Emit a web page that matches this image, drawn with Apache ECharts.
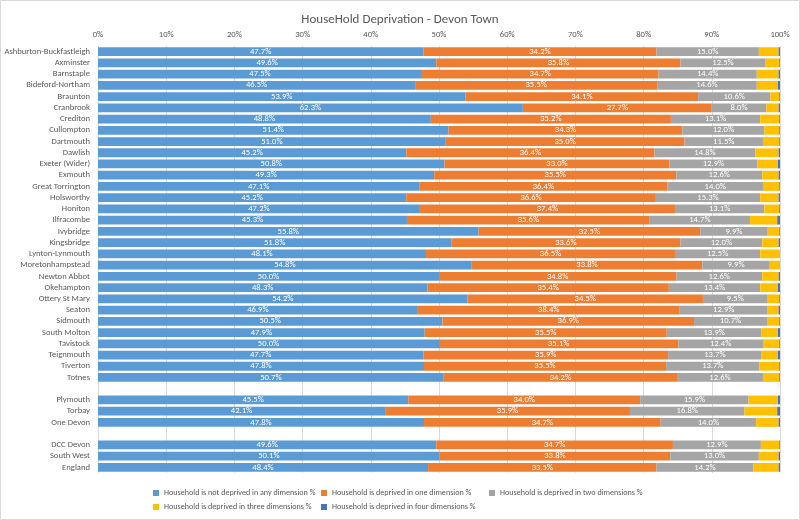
<!DOCTYPE html>
<html>
<head>
<meta charset="utf-8">
<script src="https://cdn.jsdelivr.net/npm/echarts@6/dist/echarts.min.js"></script>
<style>
  html, body { margin: 0; padding: 0; background: #fff; }
  #chart { width: 800px; height: 520px; }
</style>
</head>
<body>
<div id="chart"></div>
<script>
// 数据 (null = 空行分组)
var towns = [
  'Ashburton-Buckfastleigh', 'Axminster', 'Barnstaple', 'Bideford-Northam', 'Braunton',
  'Cranbrook', 'Crediton', 'Cullompton', 'Dartmouth', 'Dawlish', 'Exeter (Wider)',
  'Exmouth', 'Great Torrington', 'Holsworthy', 'Honiton', 'Ilfracombe', 'Ivybridge',
  'Kingsbridge', 'Lynton-Lynmouth', 'Moretonhampstead', 'Newton Abbot', 'Okehampton',
  'Ottery St Mary', 'Seaton', 'Sidmouth', 'South Molton', 'Tavistock', 'Teignmouth',
  'Tiverton', 'Totnes', ' ', 'Plymouth', 'Torbay', 'One Devon', '  ',
  'DCC Devon', 'South West', 'England'
];

var notDeprived = [
  47.7, 49.6, 47.5, 46.5, 53.9, 62.3, 48.8, 51.4, 51.0, 45.2, 50.8, 49.3, 47.1, 45.2, 47.2,
  45.3, 55.8, 51.8, 48.1, 54.8, 50.0, 48.3, 54.2, 46.9, 50.5, 47.9, 50.0, 47.7, 47.8, 50.7,
  null, 45.5, 42.1, 47.8, null, 49.6, 50.1, 48.4
];
var oneDim = [
  34.2, 35.8, 34.7, 35.5, 34.1, 27.7, 35.2, 34.3, 35.0, 36.4, 33.0, 35.5, 36.4, 36.6, 37.4,
  35.6, 32.5, 33.6, 36.5, 33.8, 34.8, 35.4, 34.5, 38.4, 36.9, 35.5, 35.1, 35.9, 35.5, 34.2,
  null, 34.0, 35.9, 34.7, null, 34.7, 33.8, 33.5
];
var twoDim = [
  15.0, 12.5, 14.4, 14.6, 10.6, 8.0, 13.1, 12.0, 11.5, 14.8, 12.9, 12.6, 14.0, 15.3, 13.1,
  14.7, 9.9, 12.0, 12.5, 9.9, 12.6, 13.4, 9.5, 12.9, 10.7, 13.9, 12.4, 13.7, 13.7, 12.6,
  null, 15.9, 16.8, 14.0, null, 12.9, 13.0, 14.2
];
var threeDim = [
  2.9, 2.0, 3.2, 3.1, 1.3, 1.8, 2.8, 2.2, 2.4, 3.4, 3.0, 2.4, 2.4, 2.7, 2.2,
  4.0, 1.7, 2.4, 2.9, 1.5, 2.4, 2.6, 1.7, 1.6, 1.8, 2.4, 2.4, 2.4, 2.9, 2.4,
  null, 4.3, 4.8, 3.3, null, 2.7, 2.9, 3.7
];
var fourDim = [
  0.2, 0.1, 0.2, 0.3, 0.1, 0.2, 0.1, 0.1, 0.1, 0.2, 0.3, 0.2, 0.1, 0.2, 0.1,
  0.4, 0.1, 0.2, 0.0, 0.0, 0.2, 0.3, 0.1, 0.2, 0.1, 0.3, 0.1, 0.3, 0.1, 0.1,
  null, 0.3, 0.4, 0.2, null, 0.1, 0.2, 0.2
];

var seriesNames = [
  'Household is not deprived in any dimension %',
  'Household is deprived in one dimension %',
  'Household is deprived in two dimensions %',
  'Household is deprived in three dimensions %',
  'Household is deprived in four dimensions %'
];
var xTicks = [0, 10, 20, 30, 40, 50, 60, 70, 80, 90, 100];

(function() {
  var myChart = echarts.init(document.getElementById('chart'));
  var font = 'Carlito, Lato, sans-serif';
  var textGrey = '#595959';

  function bar(name, data, withLabel) {
    return {
      name: name,
      type: 'bar',
      stack: 'total',
      barCategoryGap: '22%',
      data: data,
      label: {
        show: withLabel,
        color: '#fff',
        fontSize: 8.6,
        fontFamily: font,
        formatter: function(p) { return p.value == null ? '' : p.value.toFixed(1) + '%'; }
      }
    };
  }

  var option = {
    animation: false,
    color: ['#5B9BD5', '#ED7D31', '#A5A5A5', '#FFC000', '#4472C4'],
    title: {
      text: 'HouseHold Deprivation - Devon Town',
      left: 'center',
      top: 8,
      textStyle: { color: textGrey, fontSize: 13, fontWeight: 'normal', fontFamily: font }
    },
    // 图例: 固定列宽, 每行三项
    legend: {
      left: 148,
      top: 483,
      width: 520,
      itemWidth: 6,
      itemHeight: 6,
      itemGap: 4,
      icon: 'rect',
      data: seriesNames,
      formatter: '{a|{name}}',
      textStyle: {
        color: textGrey, fontSize: 8.1, fontFamily: font,
        rich: { a: { width: 153, height: 10, lineHeight: 10, fontSize: 8.1, color: textGrey, fontFamily: font } }
      }
    },
    grid: { left: 98, right: 20, top: 46, bottom: 47, outerBoundsMode: 'none' },
    xAxis: {
      type: 'value',
      position: 'top',
      min: 0,
      max: 100,
      interval: 10,
      axisLine: { show: false },
      axisTick: { show: false },
      axisLabel: {
        color: textGrey, fontSize: 8.6, fontFamily: font, margin: 7,
        formatter: function(v) { return xTicks.indexOf(v) >= 0 ? v + '%' : ''; }
      },
      splitLine: { lineStyle: { color: '#d9d9d9' } }
    },
    yAxis: {
      type: 'category',
      inverse: true,
      data: towns,
      axisLine: { show: false },
      axisTick: { show: false },
      axisLabel: { color: textGrey, fontSize: 8.6, fontFamily: font, margin: 8, interval: 0 }
    },
    graphic: [{
      type: 'rect',
      shape: { x: 0.5, y: 0.5, width: 799, height: 519 },
      style: { fill: 'none', stroke: '#d9d9d9', lineWidth: 1 },
      silent: true
    }],
    series: [
      bar(seriesNames[0], notDeprived, true),
      bar(seriesNames[1], oneDim, true),
      bar(seriesNames[2], twoDim, true),
      bar(seriesNames[3], threeDim, false),
      bar(seriesNames[4], fourDim, false)
    ]
  };

  myChart.setOption(option);
})();
</script>
</body>
</html>
